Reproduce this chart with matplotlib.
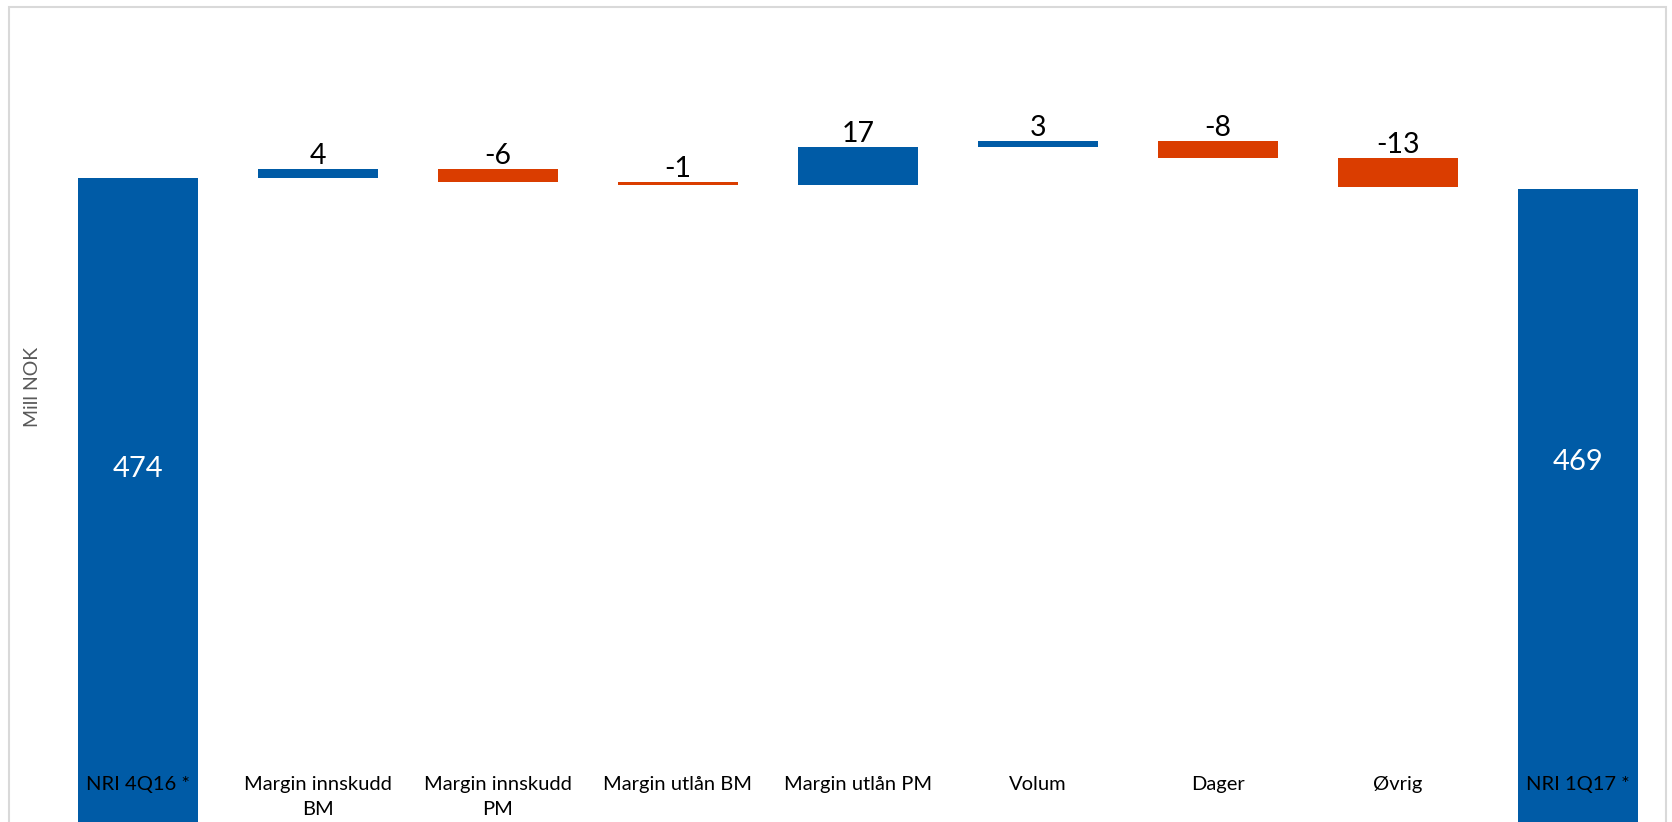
import numpy as np
from matplotlib.figure import Figure
from matplotlib.patches import Rectangle
from matplotlib import rcParams

rcParams["font.family"] = ["Lato", "DejaVu Sans"]

# Data
categories = ["NRI 4Q16 *", "Margin innskudd\nBM", "Margin innskudd\nPM", "Margin utlån BM",
              "Margin utlån PM", "Volum", "Dager", "Øvrig", "NRI 1Q17 *"]
start_value = 474
deltas = [4, -6, -1, 17, 3, -8, -13]
end_value = 469

BLUE = "#005BA6"
ORANGE = "#DA3D00"

fig = Figure(figsize=(16.72, 8.22), dpi=100)
# Axes spans the frame; bottom of bars is cut by the figure edge
ax = fig.add_axes([8.5 / 1672, 0.0, (1666 - 8.5) / 1672, (822 - 7) / 822])

x = np.arange(len(categories))
width = 0.67

# Start bar
ax.bar(x[0], start_value, width=width, color=BLUE)

# Delta bars (floating)
level = start_value
for i, d in enumerate(deltas, start=1):
    bottom = min(level, level + d)
    color = BLUE if d >= 0 else ORANGE
    ax.bar(x[i], abs(d), bottom=bottom, width=width, color=color)
    ax.annotate(f"{d}", (x[i], bottom + abs(d)), xytext=(0, 0), textcoords="offset points",
                ha="center", va="bottom", fontsize=20.5, color="black")
    level += d

# End bar
ax.bar(x[-1], end_value, width=width, color=BLUE)

# Totals inside the big bars
ax.text(x[0], 0.433, f"{start_value}", transform=ax.get_xaxis_transform(),
        ha="center", va="center", fontsize=21, color="white")
ax.text(x[-1], 0.442, f"{end_value}", transform=ax.get_xaxis_transform(),
        ha="center", va="center", fontsize=21, color="white")

# Category labels near the bottom
for xi, label in zip(x, categories):
    ax.text(xi, 0.057, label, transform=ax.get_xaxis_transform(),
            ha="center", va="top", fontsize=14.5, color="black", linespacing=1.6)

ppu = 2.2
ax.set_ylim(start_value - (822 - 178) / ppu, start_value + (178 - 7) / ppu)
ax.set_xlim(-(138 - 8.5) / 180, 8 + (1666 - 1578) / 180)
ax.axis("off")

# Axis title
fig.text(32 / 1672, 1 - 387 / 822, "Mill NOK", rotation=90, ha="center", va="center",
         fontsize=14, color="#595959")

# Light grey chart frame (bottom edge cut off)
fig.patches.append(Rectangle((8.5 / 1672, -0.1), (1666 - 8.5) / 1672, 1.1 - 7 / 822,
                             transform=fig.transFigure, fill=False, edgecolor="#D9D9D9",
                             linewidth=1.5))

fig.savefig("out.png", dpi=100, facecolor="white")
